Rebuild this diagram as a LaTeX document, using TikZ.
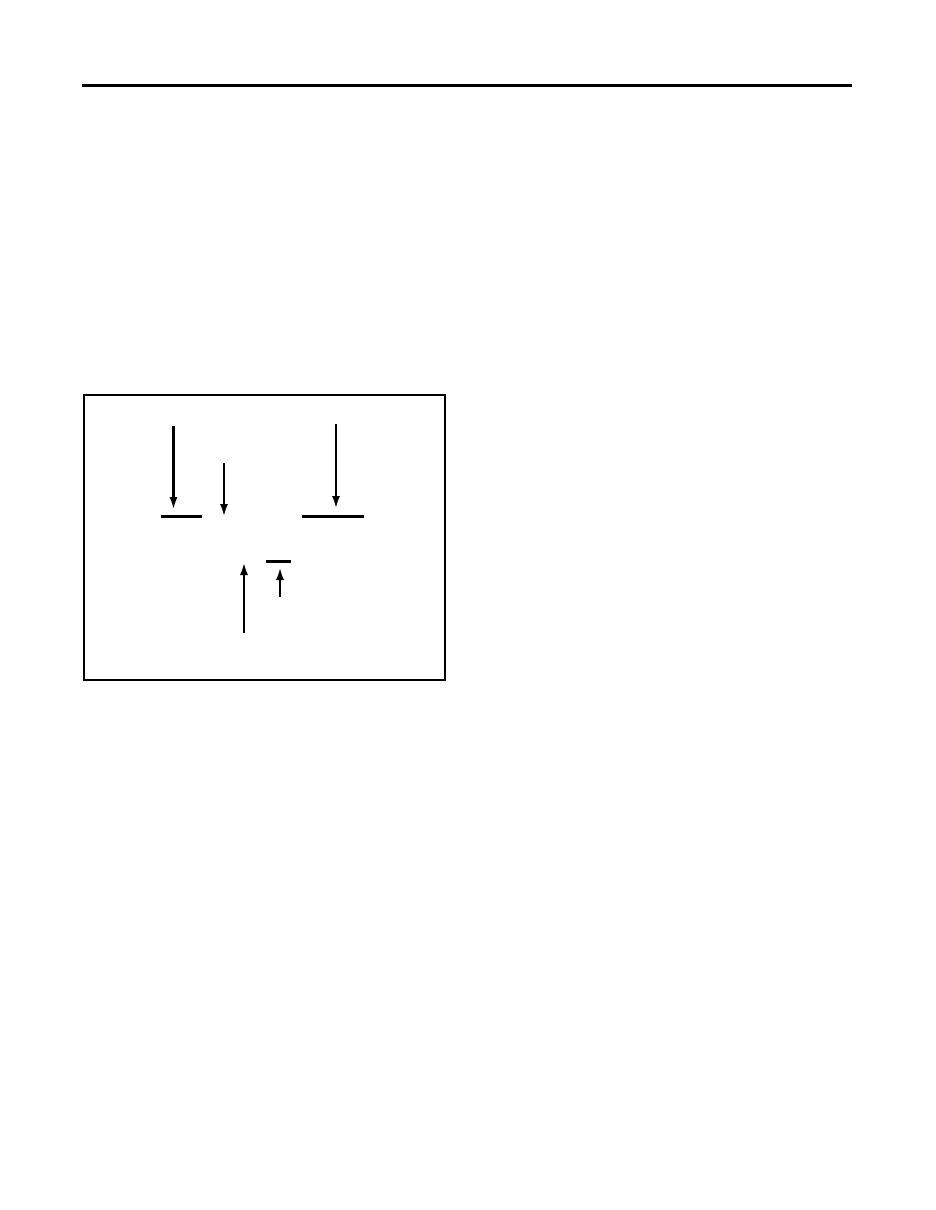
\documentclass[tikz,border=0pt]{standalone}
\usetikzlibrary{arrows.meta}
\tikzset{
  arr/.style={line width=2.8pt,-{Latex[length=13pt,width=8pt]}},
  bar/.style={line width=3pt},
  frame/.style={line width=1.4pt},
  rule/.style={line width=3pt}
}
\begin{document}
\begin{tikzpicture}[x=1pt,y=-1pt]
\useasboundingbox (0,0) rectangle (935,1210);
\fill[white] (0,0) rectangle (935,1210);
% top rule
\coordinate (r1) at (82,85);
\coordinate (r2) at (852,85);
\draw[rule] (r1) -- (r2);
% frame
\coordinate (f1) at (84,395);
\coordinate (f2) at (445,680);
\draw[frame] (f1) rectangle (f2);
% bars
\coordinate (b1a) at (161,516); \coordinate (b1b) at (202,516);
\coordinate (b3a) at (302,516); \coordinate (b3b) at (364,516);
\coordinate (b4a) at (266,561); \coordinate (b4b) at (291,561);
\draw[bar] (b1a) -- (b1b);
\draw[bar] (b3a) -- (b3b);
\draw[bar] (b4a) -- (b4b);
% arrows
\coordinate (a1s) at (173.5,426); \coordinate (a1e) at (173.5,510);
\coordinate (a2s) at (224,463);   \coordinate (a2e) at (224,517);
\coordinate (a3s) at (336,424);   \coordinate (a3e) at (336,509);
\coordinate (a4s) at (244,633);   \coordinate (a4e) at (244,562);
\coordinate (a5s) at (280,597);   \coordinate (a5e) at (280,567);
\draw[arr] (a1s) -- (a1e);
\draw[arr] (a2s) -- (a2e);
\draw[arr] (a3s) -- (a3e);
\draw[arr] (a4s) -- (a4e);
\draw[arr] (a5s) -- (a5e);
\end{tikzpicture}
\end{document}
